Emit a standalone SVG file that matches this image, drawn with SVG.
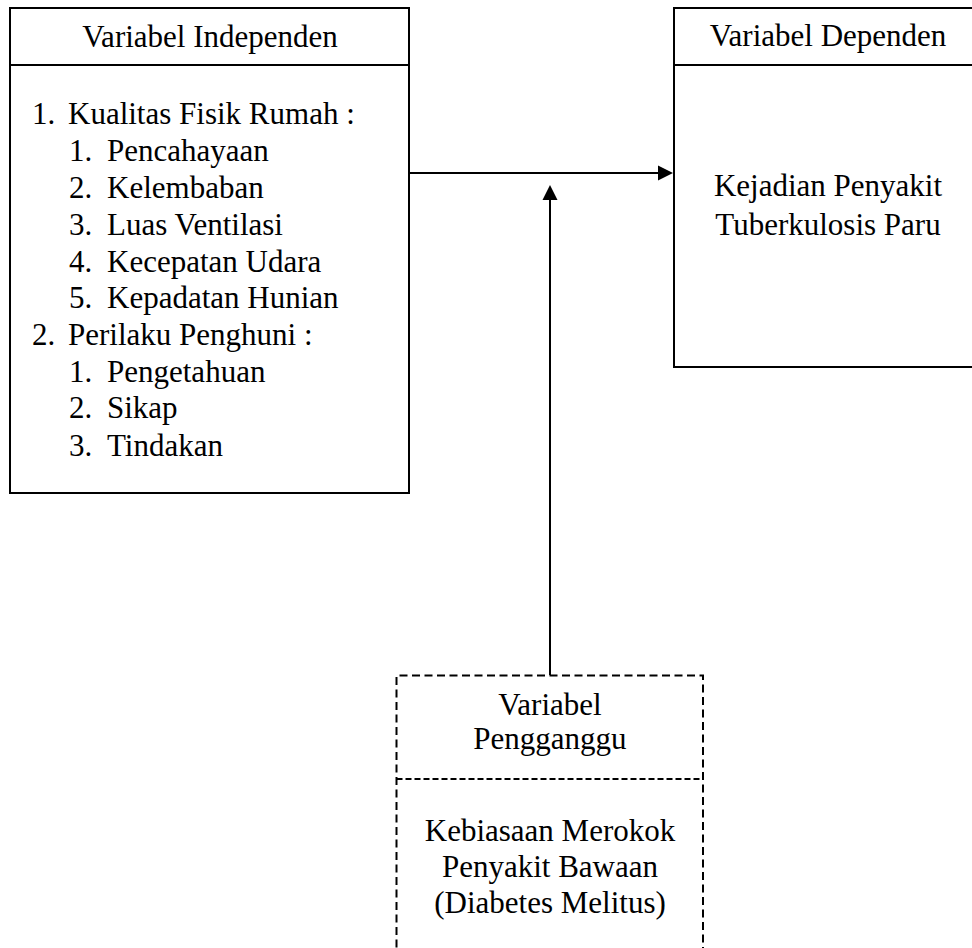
<svg xmlns="http://www.w3.org/2000/svg" width="972" height="948" viewBox="0 0 972 948" font-family="Liberation Serif, Times New Roman, DejaVu Serif, serif" font-size="31">
<style>
.c{text-anchor:middle}
.box{fill:none;stroke:#000;stroke-width:2}
.dash{fill:none;stroke:#000;stroke-width:2;stroke-dasharray:8 4.5}
.dash2{fill:none;stroke:#000;stroke-width:2;stroke-dasharray:6 3}
.ln{stroke:#000;stroke-width:2;fill:none}
</style>
<rect width="972" height="948" fill="#fff"/>
<g id="connectors">
<line class="ln" x1="410" y1="173" x2="660" y2="173"/>
<polygon points="658,165.5 673,173 658,180.5" fill="#000"/>
<line class="ln" x1="550" y1="675" x2="550" y2="198"/>
<polygon points="542.5,200 550,185 557.5,200" fill="#000"/>
</g>
<g id="independen">
<rect class="box" x="10" y="8" width="399" height="485"/>
<line class="ln" x1="10" y1="65" x2="409" y2="65"/>
<text class="c" x="210" y="47">Variabel Independen</text>
<text x="32" y="124">1.</text><text x="68" y="124">Kualitas Fisik Rumah :</text>
<text x="69" y="161">1.</text><text x="107" y="161">Pencahayaan</text>
<text x="69" y="198">2.</text><text x="107" y="198">Kelembaban</text>
<text x="69" y="235">3.</text><text x="107" y="235">Luas Ventilasi</text>
<text x="69" y="272">4.</text><text x="107" y="272">Kecepatan Udara</text>
<text x="69" y="308">5.</text><text x="107" y="308">Kepadatan Hunian</text>
<text x="32" y="345">2.</text><text x="68" y="345">Perilaku Penghuni :</text>
<text x="69" y="382">1.</text><text x="107" y="382">Pengetahuan</text>
<text x="69" y="418">2.</text><text x="107" y="418">Sikap</text>
<text x="69" y="456">3.</text><text x="107" y="456">Tindakan</text>
</g>
<g id="dependen">
<rect class="box" x="674" y="8" width="310" height="359"/>
<line class="ln" x1="674" y1="65" x2="984" y2="65"/>
<text class="c" x="828" y="46">Variabel Dependen</text>
<text class="c" x="828" y="196">Kejadian Penyakit</text>
<text class="c" x="828" y="235">Tuberkulosis Paru</text>
</g>
<g id="pengganggu">
<path class="dash" d="M396.5,960 V675.5 H703 V960"/>
<line class="dash2" x1="396.5" y1="779" x2="703" y2="779"/>
<text class="c" x="550" y="715">Variabel</text>
<text class="c" x="550" y="749">Pengganggu</text>
<text class="c" x="550" y="841">Kebiasaan Merokok</text>
<text class="c" x="550" y="877">Penyakit Bawaan</text>
<text class="c" x="550" y="913">(Diabetes Melitus)</text>
</g>
</svg>
